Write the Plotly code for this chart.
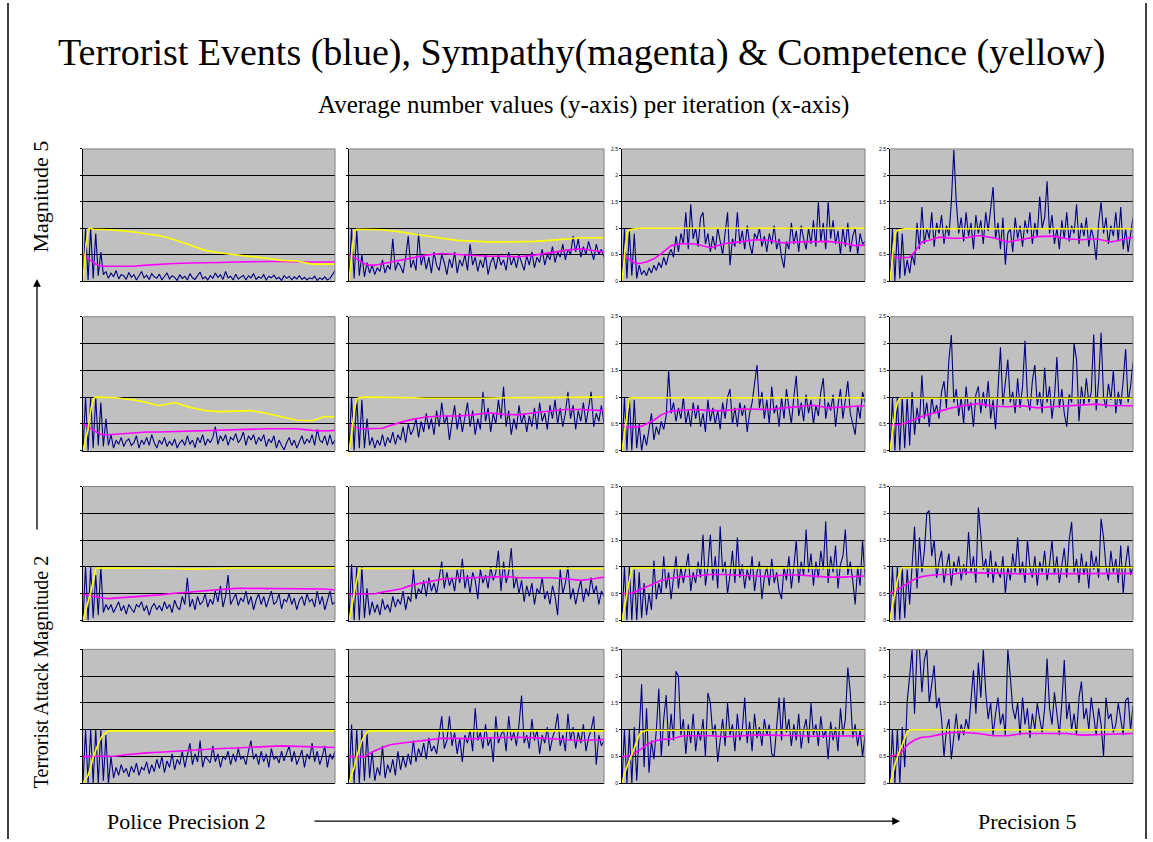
import plotly.graph_objects as go

# ---------------- data ----------------
# smooth series (Sympathy = magenta, Competence = yellow) sampled at these iterations
X_SMOOTH = [0, 1, 2, 3, 4, 5, 6, 7, 8, 10, 13, 16, 20, 25, 30, 36, 42, 48, 54, 60, 66, 72, 78, 84, 90, 95, 99]

# Row 1 (Magnitude 5)
BLUE_R1C1 = [0.0, 1.0, 0.02, 1.0, 0.05, 0.9, 0.1, 0.55, 0.12, 0.18,
             0.05, 0.15, 0.08, 0.2, 0.04, 0.12, 0.1, 0.03, 0.16, 0.07,
             0.12, 0.02, 0.1, 0.18, 0.06, 0.11, 0.03, 0.14, 0.08, 0.05,
             0.13, 0.02, 0.09, 0.15, 0.04, 0.1, 0.07, 0.01, 0.12, 0.05,
             0.09, 0.02, 0.14, 0.06, 0.03, 0.11, 0.17, 0.04, 0.08, 0.02,
             0.1, 0.05, 0.15, 0.07, 0.12, 0.03, 0.18, 0.06, 0.09, 0.02,
             0.13, 0.04, 0.08, 0.11, 0.02, 0.1, 0.06, 0.14, 0.03, 0.08,
             0.05, 0.12, 0.02, 0.09, 0.06, 0.11, 0.04, 0.07, 0.01, 0.1,
             0.05, 0.09, 0.02, 0.08, 0.04, 0.1, 0.03, 0.07, 0.02, 0.06,
             0.04, 0.09, 0.01, 0.06, 0.03, 0.08, 0.02, 0.05, 0.12, 0.2]
MAG_R1C1 = [0.5, 0.47, 0.43, 0.39, 0.35, 0.32, 0.3, 0.29, 0.28, 0.28, 0.28, 0.28, 0.28, 0.3,
            0.32, 0.33, 0.34, 0.34, 0.35, 0.36, 0.37, 0.37, 0.37, 0.36, 0.36, 0.36, 0.36]
YEL_R1C1 = [0.0, 0.6, 0.98, 1.0, 0.98, 0.98, 0.98, 0.98, 0.97, 0.97, 0.96, 0.95, 0.93, 0.89,
            0.86, 0.78, 0.68, 0.58, 0.53, 0.5, 0.46, 0.43, 0.39, 0.38, 0.32, 0.32, 0.32]

BLUE_R1C2 = [0.0, 1.0, 0.05, 0.95, 0.1, 0.5, 0.08, 0.35, 0.15, 0.3,
             0.12, 0.25, 0.18, 0.4, 0.15, 0.3, 0.22, 0.8, 0.2, 0.35,
             0.28, 0.15, 0.45, 0.85, 0.25, 0.4, 0.2, 0.9, 0.3, 0.5,
             0.22, 0.45, 0.15, 0.55, 0.3, 0.2, 0.5, 0.35, 0.12, 0.42,
             0.25, 0.55, 0.15, 0.4, 0.28, 0.5, 0.2, 0.7, 0.3, 0.45,
             0.18, 0.4, 0.25, 0.5, 0.12, 0.35, 0.45, 0.22, 0.5, 0.3,
             0.4, 0.2, 0.55, 0.3, 0.45, 0.25, 0.5, 0.35, 0.2, 0.48,
             0.3, 0.55, 0.25, 0.45, 0.35, 0.6, 0.3, 0.5, 0.4, 0.65,
             0.35, 0.55, 0.45, 0.7, 0.4, 0.6, 0.5, 0.85, 0.55, 0.8,
             0.45, 0.65, 0.5, 0.75, 0.55, 0.4, 0.7, 0.5, 0.6, 0.45]
MAG_R1C2 = [0.5, 0.47, 0.44, 0.41, 0.38, 0.35, 0.33, 0.31, 0.3, 0.3, 0.33, 0.36, 0.39, 0.44,
            0.49, 0.52, 0.5, 0.49, 0.47, 0.47, 0.46, 0.49, 0.54, 0.58, 0.61, 0.58, 0.55]
YEL_R1C2 = [0.0, 0.5, 0.95, 0.98, 0.98, 0.98, 0.98, 0.98, 0.98, 0.98, 0.97, 0.95, 0.93, 0.89,
            0.85, 0.81, 0.77, 0.75, 0.74, 0.74, 0.74, 0.75, 0.77, 0.79, 0.82, 0.82, 0.82]

BLUE_R1C3 = [0.0, 1.0, 0.05, 0.95, 0.1, 0.9, 0.05, 0.3, 0.12, 0.2,
             0.1, 0.25, 0.15, 0.3, 0.2, 0.35, 0.25, 0.45, 0.3, 0.5,
             0.6, 0.45, 0.85, 0.55, 0.9, 0.7, 1.3, 0.6, 1.45, 0.8,
             1.0, 0.65, 1.2, 1.3, 0.7, 0.9, 0.55, 0.85, 0.6, 1.0,
             0.75, 0.5, 0.9, 1.3, 0.3, 0.8, 0.65, 1.3, 0.7, 0.95,
             0.6, 1.05, 0.7, 0.5, 0.9, 0.8, 1.0, 0.65, 0.85, 0.55,
             0.9, 0.7, 1.05, 0.6, 0.8, 0.45, 0.25, 0.75, 0.6, 1.1,
             0.7, 0.95, 0.55, 1.05, 0.8, 0.6, 1.0, 0.7, 1.15, 0.65,
             1.5, 0.75, 1.1, 0.6, 1.5, 0.8, 1.15, 0.7, 0.95, 0.5,
             1.0, 0.65, 1.1, 0.55, 0.85, 1.0, 0.5, 0.9, 0.7, 0.75]
MAG_R1C3 = [0.5, 0.47, 0.44, 0.4, 0.37, 0.35, 0.33, 0.33, 0.34, 0.36, 0.42, 0.52, 0.67, 0.71,
            0.7, 0.63, 0.71, 0.74, 0.78, 0.77, 0.72, 0.74, 0.75, 0.75, 0.72, 0.67, 0.68]
YEL_R1C3 = [0.0, 0.5, 0.9, 0.97, 0.98, 0.99, 1.0, 1.0, 1.0, 1.0, 1.0, 1.0, 1.0, 1.0,
            1.0, 1.0, 1.0, 1.0, 1.0, 1.0, 1.0, 1.0, 1.0, 1.0, 1.0, 1.0, 1.0]

BLUE_R1C4 = [0.0, 1.0, 0.0, 1.0, 0.05, 0.9, 0.1, 0.4, 0.15, 0.5,
             0.3, 1.1, 0.6, 1.4, 0.7, 1.0, 0.8, 1.3, 0.65, 1.1,
             0.9, 1.25, 0.7, 1.05, 0.85, 1.5, 2.48, 1.5, 0.9, 1.2,
             0.75, 1.3, 0.85, 1.1, 0.6, 1.25, 0.9, 1.15, 0.7, 1.3,
             0.95, 1.4, 1.78, 0.8, 1.1, 0.6, 1.2, 0.31, 0.9, 1.0,
             0.55, 1.2, 0.8, 1.05, 0.65, 1.15, 0.9, 1.3, 0.7, 1.1,
             0.85, 1.6, 1.0, 1.2, 1.89, 0.9, 1.25, 0.7, 1.0, 0.6,
             1.15, 0.8, 1.3, 0.75, 1.05, 0.9, 1.45, 0.7, 1.1, 0.85,
             1.2, 0.65, 1.0, 0.8, 0.4, 1.1, 1.5, 0.9, 1.2, 0.7,
             1.05, 0.85, 1.3, 0.75, 1.4, 0.6, 1.0, 0.55, 0.9, 1.2]
MAG_R1C4 = [0.5, 0.47, 0.45, 0.44, 0.44, 0.44, 0.44, 0.45, 0.45, 0.55, 0.74, 0.77, 0.83, 0.81,
            0.81, 0.86, 0.82, 0.74, 0.79, 0.84, 0.85, 0.8, 0.78, 0.8, 0.74, 0.79, 0.83]
YEL_R1C4 = [0.0, 0.4, 0.9, 0.96, 0.97, 0.99, 0.99, 0.99, 0.99, 0.99, 0.99, 0.99, 0.99, 0.99,
            0.99, 0.99, 0.99, 0.99, 0.99, 0.99, 0.99, 0.99, 0.99, 0.99, 0.99, 0.99, 0.99]

# Row 2
BLUE_R2C1 = [0.0, 1.0, 0.0, 1.0, 0.05, 1.0, 0.1, 0.9, 0.08, 0.6,
             0.1, 0.3, 0.05, 0.2, 0.12, 0.25, 0.08, 0.18, 0.22, 0.1,
             0.15, 0.28, 0.05, 0.2, 0.12, 0.25, 0.1, 0.3, 0.15, 0.05,
             0.2, 0.12, 0.25, 0.08, 0.18, 0.1, 0.22, 0.05, 0.15, 0.2,
             0.1, 0.28, 0.12, 0.2, 0.06, 0.25, 0.15, 0.3, 0.1, 0.22,
             0.15, 0.25, 0.45, 0.12, 0.28, 0.18, 0.3, 0.1, 0.25, 0.2,
             0.32, 0.15, 0.22, 0.35, 0.1, 0.28, 0.2, 0.3, 0.12, 0.25,
             0.18, 0.3, 0.08, 0.22, 0.15, 0.28, 0.05, 0.2, 0.1, 0.02,
             0.15, 0.25, 0.1, 0.2, 0.05, 0.18, 0.28, 0.12, 0.22, 0.15,
             0.3, 0.1, 0.4, 0.2, 0.15, 0.28, 0.1, 0.3, 0.12, 0.2]
MAG_R2C1 = [0.5, 0.47, 0.44, 0.41, 0.38, 0.35, 0.33, 0.31, 0.3, 0.3, 0.31, 0.32, 0.33, 0.35,
            0.35, 0.36, 0.37, 0.38, 0.39, 0.4, 0.41, 0.41, 0.41, 0.41, 0.38, 0.37, 0.38]
YEL_R2C1 = [0.0, 0.2, 0.4, 0.75, 0.97, 1.0, 1.0, 1.0, 1.0, 1.0, 0.99, 0.97, 0.95, 0.9,
            0.84, 0.9, 0.81, 0.75, 0.73, 0.74, 0.75, 0.7, 0.63, 0.57, 0.56, 0.64, 0.63]

BLUE_R2C2 = [0.0, 1.0, 0.0, 1.0, 0.05, 0.95, 0.05, 0.6, 0.1, 0.25,
             0.05, 0.2, 0.1, 0.3, 0.08, 0.25, 0.15, 0.35, 0.12, 0.3,
             0.2, 0.45, 0.15, 0.5, 0.3, 0.4, 0.6, 0.25, 0.55, 0.35,
             0.7, 0.4, 0.6, 0.3, 0.75, 0.45, 0.9, 0.5, 0.65, 0.2,
             0.55, 0.85, 0.4, 0.7, 0.35, 0.6, 0.9, 0.45, 0.75, 0.3,
             0.6, 0.4, 1.1, 0.55, 0.8, 0.35, 0.7, 0.5, 0.95, 0.6,
             1.2, 0.45, 0.75, 0.3, 0.6, 0.4, 0.85, 0.5, 0.7, 0.35,
             0.65, 0.45, 0.8, 0.4, 0.9, 0.55, 0.7, 0.4, 0.85, 0.6,
             0.95, 0.5, 0.8, 0.45, 0.7, 1.1, 0.6, 0.85, 0.4, 0.75,
             0.55, 0.9, 0.5, 0.8, 1.1, 0.45, 0.7, 0.55, 0.85, 0.5]
MAG_R2C2 = [0.48, 0.46, 0.44, 0.43, 0.42, 0.41, 0.41, 0.41, 0.41, 0.41, 0.42, 0.47, 0.53, 0.59,
            0.63, 0.65, 0.65, 0.67, 0.71, 0.68, 0.67, 0.71, 0.74, 0.77, 0.77, 0.76, 0.75]
YEL_R2C2 = [0.0, 0.3, 0.75, 0.97, 0.99, 1.0, 1.0, 1.0, 1.0, 1.0, 1.0, 1.0, 0.99, 0.99,
            0.98, 0.98, 0.98, 0.97, 0.98, 0.99, 0.99, 0.99, 1.0, 1.0, 1.0, 1.0, 1.0]

BLUE_R2C3 = [0.0, 1.0, 0.0, 1.0, 0.0, 0.95, 0.05, 0.5, 0.0, 0.3,
             0.1, 0.4, 0.7, 0.2, 0.45, 0.3, 0.55, 0.4, 0.65, 1.49,
             0.7, 0.9, 0.55, 0.8, 0.6, 1.0, 0.5, 0.75, 0.45, 0.9,
             0.6, 0.85, 0.45, 0.7, 0.35, 0.95, 0.55, 0.8, 0.5, 0.75,
             0.4, 0.9, 0.6, 1.0, 1.15, 0.5, 0.8, 0.45, 0.9, 0.65,
             0.85, 0.35, 0.7, 0.9, 1.25, 1.6, 0.8, 1.1, 0.6, 0.95,
             0.5, 1.2, 0.7, 0.85, 0.45, 1.0, 0.6, 1.15, 0.8, 0.5,
             1.0, 1.4, 0.65, 0.9, 0.55, 1.05, 0.7, 0.95, 0.5, 0.85,
             0.65, 1.1, 1.35, 0.6, 0.9, 0.75, 1.05, 0.45, 0.85, 1.15,
             0.6, 0.95, 1.3, 0.7, 0.5, 0.3, 0.85, 0.6, 1.1, 0.9]
MAG_R2C3 = [0.5, 0.45, 0.44, 0.44, 0.44, 0.44, 0.44, 0.45, 0.46, 0.5, 0.57, 0.67, 0.74, 0.76,
            0.77, 0.75, 0.75, 0.78, 0.78, 0.77, 0.8, 0.83, 0.85, 0.8, 0.82, 0.84, 0.84]
YEL_R2C3 = [0.0, 0.35, 0.7, 0.98, 0.99, 0.99, 0.99, 0.99, 0.99, 0.99, 0.99, 0.99, 0.99, 0.99,
            0.99, 0.99, 0.99, 0.99, 0.99, 0.99, 0.99, 0.99, 0.99, 0.99, 0.99, 0.99, 0.99]

BLUE_R2C4 = [0.0, 1.0, 0.0, 1.0, 0.0, 1.0, 0.05, 1.0, 0.1, 1.1,
             0.3, 0.8, 0.5, 1.41, 0.6, 0.9, 0.45, 1.0, 0.7, 0.85,
             0.6, 1.1, 1.3, 0.8, 1.7, 2.16, 0.9, 1.15, 0.65, 1.0,
             0.5, 1.2, 0.75, 0.9, 0.45, 1.05, 1.2, 0.7, 1.1, 0.8,
             1.3, 0.6, 0.95, 0.4, 1.15, 1.93, 0.85, 1.25, 1.7, 0.9,
             1.1, 0.7, 1.35, 0.8, 1.2, 2.05, 1.0, 0.75, 1.3, 1.6,
             0.85, 1.1, 0.7, 1.55, 0.9, 1.2, 0.6, 1.0, 1.75, 0.8,
             1.15, 0.7, 0.45, 1.05, 0.9, 2.0, 1.7, 0.55, 1.2, 0.85,
             1.35, 0.9, 1.1, 2.17, 0.75, 1.3, 2.2, 1.0, 0.8, 1.25,
             0.95, 1.5, 0.7, 1.1, 0.85, 1.3, 1.9, 0.9, 1.2, 1.65]
MAG_R2C4 = [0.48, 0.48, 0.48, 0.48, 0.49, 0.5, 0.52, 0.54, 0.56, 0.59, 0.64, 0.68, 0.73, 0.8,
            0.84, 0.88, 0.83, 0.82, 0.84, 0.8, 0.82, 0.84, 0.86, 0.87, 0.84, 0.84, 0.84]
YEL_R2C4 = [0.0, 0.35, 0.7, 0.9, 0.98, 0.98, 0.98, 0.98, 0.98, 0.98, 0.98, 0.98, 0.98, 0.98,
            0.98, 0.98, 0.98, 0.98, 0.98, 0.98, 0.98, 0.98, 0.98, 0.98, 0.98, 0.98, 0.98]

# Row 3
BLUE_R3C1 = [0.0, 1.0, 0.0, 1.0, 0.05, 0.85, 0.1, 1.0, 0.15, 0.3,
             0.2, 0.3, 0.15, 0.25, 0.35, 0.18, 0.28, 0.12, 0.3, 0.22,
             0.15, 0.3, 0.25, 0.35, 0.18, 0.28, 0.1, 0.25, 0.32, 0.2,
             0.28, 0.18, 0.35, 0.22, 0.3, 0.15, 0.38, 0.25, 0.2, 0.45,
             0.3, 0.8, 0.25, 0.4, 0.2, 0.45, 0.3, 0.35, 0.5, 0.25,
             0.4, 0.3, 0.55, 0.35, 0.65, 0.25, 0.45, 0.85, 0.3, 0.4,
             0.5, 0.28, 0.42, 0.35, 0.55, 0.3, 0.45, 0.2, 0.38, 0.5,
             0.3, 0.45, 0.25, 0.4, 0.55, 0.3, 0.35, 0.5, 0.22, 0.4,
             0.35, 0.5, 0.3, 0.42, 0.2, 0.38, 0.45, 0.28, 0.5, 0.35,
             0.4, 0.25, 0.55, 0.3, 0.45, 0.2, 0.38, 0.55, 0.3, 0.35]
MAG_R3C1 = [0.49, 0.48, 0.47, 0.46, 0.45, 0.44, 0.43, 0.42, 0.42, 0.41, 0.42, 0.43, 0.44, 0.46,
            0.48, 0.51, 0.53, 0.56, 0.58, 0.6, 0.6, 0.6, 0.6, 0.6, 0.6, 0.59, 0.57]
YEL_R3C1 = [0.0, 0.2, 0.35, 0.52, 0.77, 0.97, 0.98, 0.98, 0.98, 0.98, 0.98, 0.98, 0.98, 0.98,
            0.98, 0.97, 0.96, 0.96, 0.97, 0.98, 0.98, 0.98, 0.98, 0.98, 0.98, 0.98, 0.98]

BLUE_R3C2 = [0.0, 1.05, 0.0, 1.0, 0.0, 1.0, 0.05, 0.6, 0.1, 0.35,
             0.15, 0.3, 0.1, 0.4, 0.2, 0.3, 0.15, 0.45, 0.25, 0.4,
             0.3, 0.55, 0.2, 0.45, 0.35, 0.95, 0.4, 0.6, 0.5, 0.75,
             0.45, 0.8, 0.55, 0.7, 0.5, 0.85, 1.1, 0.6, 0.9, 0.65,
             0.8, 0.55, 0.95, 0.7, 1.15, 0.6, 0.85, 0.5, 0.9, 0.75,
             0.4, 0.95, 0.7, 0.85, 0.6, 1.0, 0.75, 0.9, 1.3, 0.55,
             1.1, 0.7, 0.9, 1.35, 0.6, 0.8, 0.5, 0.75, 0.35, 0.65,
             0.45, 0.7, 0.3, 0.6, 0.5, 0.8, 0.4, 0.55, 0.3, 0.65,
             0.45, 0.1, 0.95, 0.5, 0.7, 1.0, 0.4, 0.6, 0.3, 0.55,
             0.75, 0.35, 0.6, 0.45, 0.8, 0.5, 0.65, 0.3, 0.55, 0.45]
MAG_R3C2 = [0.49, 0.49, 0.49, 0.49, 0.49, 0.49, 0.49, 0.49, 0.49, 0.5, 0.53, 0.56, 0.59, 0.67,
            0.72, 0.77, 0.79, 0.8, 0.82, 0.82, 0.8, 0.8, 0.8, 0.78, 0.75, 0.78, 0.81]
YEL_R3C2 = [0.0, 0.27, 0.52, 0.75, 0.97, 0.97, 0.97, 0.97, 0.97, 0.97, 0.97, 0.97, 0.97, 0.97,
            0.97, 0.97, 0.97, 0.97, 0.97, 0.97, 0.97, 0.97, 0.97, 0.97, 0.97, 0.97, 0.97]

BLUE_R3C3 = [0.0, 1.0, 0.0, 1.0, 0.0, 0.95, 0.0, 0.9, 0.05, 0.7,
             0.1, 0.5, 0.2, 1.12, 0.4, 0.7, 0.5, 1.2, 0.6, 0.9,
             0.4, 0.85, 1.2, 0.6, 1.0, 0.7, 0.95, 1.25, 0.55, 0.9,
             0.7, 1.1, 0.8, 1.6, 0.65, 1.0, 1.6, 0.75, 1.2, 0.6,
             1.76, 0.9, 1.1, 0.5, 0.85, 1.3, 0.7, 1.55, 0.8, 1.05,
             0.6, 0.95, 0.75, 1.2, 0.55, 0.9, 1.1, 0.4, 0.8, 1.0,
             0.65, 1.15, 0.7, 0.9, 0.55, 0.4, 1.0, 0.75, 1.2, 0.6,
             1.0, 1.5, 0.7, 1.1, 0.85, 1.7, 0.9, 1.25, 0.65, 1.1,
             0.8, 1.3, 0.95, 1.85, 0.7, 1.2, 0.9, 1.4, 0.6, 1.05,
             1.2, 1.7, 0.85, 1.1, 0.75, 0.3, 1.0, 0.65, 1.5, 0.8]
MAG_R3C3 = [0.5, 0.5, 0.5, 0.5, 0.51, 0.53, 0.55, 0.57, 0.6, 0.64, 0.7, 0.75, 0.79, 0.82,
            0.83, 0.86, 0.86, 0.84, 0.83, 0.82, 0.85, 0.85, 0.83, 0.81, 0.81, 0.82, 0.83]
YEL_R3C3 = [0.0, 0.28, 0.5, 0.75, 0.98, 0.98, 0.98, 0.98, 0.98, 0.98, 0.98, 0.98, 0.98, 0.98,
            0.98, 0.98, 0.98, 0.98, 0.98, 0.98, 0.98, 0.98, 0.98, 0.98, 0.98, 0.98, 0.98]

BLUE_R3C4 = [0.0, 1.0, 0.0, 1.0, 0.0, 1.0, 0.05, 0.95, 0.3, 1.1,
             1.75, 0.6, 1.55, 0.9, 1.3, 2.0, 2.05, 1.2, 1.5, 0.8,
             1.1, 1.3, 0.7, 1.0, 1.25, 0.65, 1.1, 0.9, 1.2, 0.75,
             1.05, 0.85, 1.65, 0.9, 1.2, 0.7, 2.11, 1.6, 0.95, 1.15,
             0.8, 1.3, 0.7, 1.1, 0.9, 0.8, 1.2, 0.5, 1.0, 0.75,
             1.25, 0.9, 1.55, 0.85, 1.1, 0.7, 1.5, 1.0, 0.8, 1.2,
             0.65, 1.1, 0.9, 1.3, 0.75, 1.05, 1.5, 0.85, 1.2, 0.7,
             1.0, 1.35, 0.8, 1.5, 1.84, 0.9, 1.15, 0.7, 1.25, 0.85,
             1.1, 0.6, 1.3, 0.95, 1.2, 0.8, 1.9, 1.55, 1.0, 0.75,
             1.3, 0.9, 1.15, 0.7, 1.4, 0.5, 1.05, 1.4, 0.85, 1.0]
MAG_R3C4 = [0.5, 0.52, 0.55, 0.58, 0.61, 0.64, 0.67, 0.7, 0.72, 0.77, 0.82, 0.84, 0.86, 0.86,
            0.9, 0.89, 0.89, 0.88, 0.87, 0.87, 0.87, 0.87, 0.87, 0.87, 0.87, 0.88, 0.88]
YEL_R3C4 = [0.0, 0.3, 0.5, 0.75, 0.9, 0.99, 0.99, 0.99, 0.99, 0.99, 0.99, 0.99, 0.99, 0.99,
            0.99, 0.99, 0.99, 0.99, 0.99, 0.99, 0.99, 0.99, 0.99, 0.99, 0.99, 0.99, 0.99]

# Row 4 (Magnitude 2)
BLUE_R4C1 = [0.0, 1.0, 0.0, 1.0, 0.0, 1.0, 0.0, 1.0, 0.05, 0.9,
             0.0, 0.5, 0.1, 0.3, 0.15, 0.35, 0.2, 0.28, 0.12, 0.32,
             0.2, 0.38, 0.15, 0.3, 0.25, 0.4, 0.18, 0.35, 0.22, 0.45,
             0.28, 0.5, 0.2, 0.42, 0.3, 0.55, 0.25, 0.45, 0.35, 0.6,
             0.3, 0.5, 0.75, 0.35, 0.55, 0.4, 0.8, 0.3, 0.5, 0.45,
             0.38, 0.7, 0.4, 0.55, 0.3, 0.5, 0.45, 0.6, 0.35, 0.55,
             0.4, 0.65, 0.45, 0.5, 0.35, 0.6, 0.8, 0.45, 0.55, 0.35,
             0.6, 0.4, 0.55, 0.3, 0.65, 0.45, 0.5, 0.38, 0.6, 0.42,
             0.55, 0.7, 0.4, 0.6, 0.35, 0.5, 0.62, 0.3, 0.55, 0.45,
             0.75, 0.4, 0.6, 0.35, 0.5, 0.7, 0.3, 0.55, 0.45, 0.6]
MAG_R4C1 = [0.5, 0.5, 0.5, 0.5, 0.5, 0.5, 0.5, 0.5, 0.5, 0.5, 0.51, 0.53, 0.55, 0.57,
            0.58, 0.6, 0.62, 0.64, 0.65, 0.66, 0.67, 0.69, 0.7, 0.69, 0.68, 0.67, 0.67]
YEL_R4C1 = [0.0, 0.08, 0.15, 0.3, 0.49, 0.62, 0.75, 0.85, 0.91, 0.98, 0.98, 0.98, 0.98, 0.98,
            0.98, 0.98, 0.98, 0.98, 0.98, 0.98, 0.98, 0.98, 0.98, 0.98, 0.98, 0.98, 0.98]

BLUE_R4C2 = [0.0, 1.1, 0.0, 1.0, 0.0, 1.0, 0.05, 0.95, 0.1, 0.6,
             0.05, 0.3, 0.15, 0.7, 0.1, 0.35, 0.2, 0.45, 0.15, 0.6,
             0.25, 0.5, 0.3, 0.55, 0.35, 0.8, 0.4, 0.65, 0.5, 0.75,
             0.45, 0.85, 0.6, 0.7, 0.55, 0.9, 1.25, 0.65, 0.8, 1.25,
             0.7, 0.95, 0.55, 0.85, 0.4, 0.9, 0.75, 1.0, 0.6, 1.4,
             0.8, 0.95, 0.65, 1.1, 0.7, 0.85, 0.4, 1.25, 0.75, 0.9,
             1.0, 0.6, 1.25, 0.8, 0.95, 0.7, 1.1, 1.64, 0.75, 0.9,
             0.65, 1.2, 0.8, 1.0, 0.55, 0.9, 0.75, 1.05, 0.6, 0.85,
             1.0, 1.3, 0.7, 0.9, 0.6, 1.3, 0.8, 1.05, 0.65, 0.95,
             0.75, 1.1, 0.6, 0.85, 1.0, 1.25, 0.35, 0.9, 0.7, 0.8]
MAG_R4C2 = [0.5, 0.5, 0.5, 0.5, 0.5, 0.5, 0.5, 0.53, 0.56, 0.61, 0.67, 0.72, 0.75, 0.78,
            0.81, 0.84, 0.84, 0.83, 0.85, 0.86, 0.86, 0.85, 0.84, 0.82, 0.8, 0.81, 0.82]
YEL_R4C2 = [0.0, 0.15, 0.3, 0.5, 0.65, 0.8, 0.88, 0.95, 0.98, 0.98, 0.98, 0.98, 0.98, 0.98,
            0.98, 0.98, 0.98, 0.98, 0.98, 0.98, 0.98, 0.98, 0.98, 0.98, 0.98, 0.98, 0.98]

BLUE_R4C3 = [0.0, 1.0, 0.0, 1.0, 0.0, 1.05, 0.05, 1.1, 1.85, 0.3,
             1.4, 0.2, 0.8, 0.45, 1.0, 1.77, 0.5, 1.2, 1.65, 0.7,
             1.3, 0.8, 2.09, 2.0, 0.9, 1.2, 0.55, 1.1, 0.75, 1.3,
             0.6, 1.0, 0.8, 1.2, 0.5, 1.69, 1.5, 0.9, 1.1, 0.4,
             0.85, 1.2, 0.7, 1.5, 0.9, 1.1, 0.6, 1.3, 0.8, 1.0,
             1.6, 0.75, 1.15, 0.6, 1.3, 0.85, 1.05, 0.7, 1.2, 0.9,
             1.1, 0.55, 0.5, 1.0, 1.6, 0.8, 1.6, 0.95, 1.2, 0.7,
             1.1, 0.8, 1.3, 0.65, 1.0, 1.2, 0.75, 1.5, 0.9, 1.1,
             0.7, 1.25, 0.85, 1.0, 0.45, 1.15, 0.8, 1.05, 0.6, 1.4,
             0.9, 1.2, 2.16, 1.7, 0.85, 1.1, 0.7, 1.0, 0.5, 0.9]
MAG_R4C3 = [0.5, 0.5, 0.5, 0.51, 0.53, 0.56, 0.59, 0.61, 0.65, 0.72, 0.79, 0.82, 0.83, 0.89,
            0.89, 0.89, 0.87, 0.89, 0.9, 0.9, 0.9, 0.89, 0.88, 0.88, 0.89, 0.89, 0.89]
YEL_R4C3 = [0.0, 0.18, 0.3, 0.42, 0.55, 0.67, 0.8, 0.9, 0.96, 0.99, 0.99, 0.99, 0.99, 0.99,
            0.99, 0.99, 0.99, 0.99, 0.99, 0.99, 0.99, 0.99, 0.99, 0.99, 0.99, 0.99, 0.99]

BLUE_R4C4 = [0.0, 1.0, 0.0, 1.0, 0.0, 1.05, 0.3, 1.52, 2.0, 2.5,
             1.3, 2.5, 2.5, 1.7, 2.3, 2.5, 1.5, 1.9, 2.2, 1.4,
             1.6, 1.2, 0.5, 1.0, 1.2, 0.45, 0.9, 1.3, 0.8, 1.1,
             0.9, 1.2, 1.0, 1.5, 2.11, 1.3, 2.25, 1.6, 2.5, 1.7,
             1.2, 1.5, 0.9, 1.3, 1.6, 1.1, 1.3, 0.9, 2.5, 2.0,
             1.4, 1.2, 1.5, 0.9, 1.6, 1.1, 1.4, 0.85, 1.3, 1.0,
             1.5, 1.2, 0.95, 1.4, 2.33, 1.4, 1.1, 1.7, 1.3, 0.9,
             1.5, 2.3, 1.2, 1.5, 1.0, 1.3, 0.9, 1.6, 1.9, 1.2,
             1.4, 1.0, 1.6, 1.2, 0.9, 1.4, 1.1, 0.5, 1.6, 1.2,
             1.3, 0.95, 1.1, 1.5, 1.2, 0.9, 1.55, 1.6, 1.0, 1.45]
MAG_R4C4 = [0.5, 0.51, 0.52, 0.53, 0.55, 0.6, 0.66, 0.71, 0.75, 0.81, 0.86, 0.87, 0.91, 0.95,
            0.95, 0.93, 0.89, 0.89, 0.93, 0.93, 0.94, 0.93, 0.9, 0.91, 0.92, 0.93, 0.93]
YEL_R4C4 = [0.0, 0.15, 0.35, 0.5, 0.62, 0.72, 0.85, 0.96, 1.0, 1.0, 1.0, 1.0, 1.0, 1.0,
            1.0, 1.0, 1.0, 1.0, 1.0, 1.0, 1.0, 1.0, 1.0, 1.0, 1.0, 1.0, 1.0]

Y_TICKS = [0, 0.5, 1, 1.5, 2, 2.5]
Y_TICK_TEXT = ["0", "0.5", "1", "1.5", "2", "2.5"]

TITLE = "Terrorist Events (blue), Sympathy(magenta) & Competence (yellow)"
SUBTITLE = "Average number values (y-axis) per iteration (x-axis)"

PANELS = [
    [(BLUE_R1C1, MAG_R1C1, YEL_R1C1), (BLUE_R1C2, MAG_R1C2, YEL_R1C2),
     (BLUE_R1C3, MAG_R1C3, YEL_R1C3), (BLUE_R1C4, MAG_R1C4, YEL_R1C4)],
    [(BLUE_R2C1, MAG_R2C1, YEL_R2C1), (BLUE_R2C2, MAG_R2C2, YEL_R2C2),
     (BLUE_R2C3, MAG_R2C3, YEL_R2C3), (BLUE_R2C4, MAG_R2C4, YEL_R2C4)],
    [(BLUE_R3C1, MAG_R3C1, YEL_R3C1), (BLUE_R3C2, MAG_R3C2, YEL_R3C2),
     (BLUE_R3C3, MAG_R3C3, YEL_R3C3), (BLUE_R3C4, MAG_R3C4, YEL_R3C4)],
    [(BLUE_R4C1, MAG_R4C1, YEL_R4C1), (BLUE_R4C2, MAG_R4C2, YEL_R4C2),
     (BLUE_R4C3, MAG_R4C3, YEL_R4C3), (BLUE_R4C4, MAG_R4C4, YEL_R4C4)],
]

# ---------------- layout ----------------
W, H = 1153, 842
COL_PX = [(83, 335), (349, 604), (622, 865), (890, 1133)]
ROW_PX = [(147, 280), (316, 451), (487, 622), (651, 786)]
FONT = "Liberation Serif"

fig = go.Figure()
layout = {}
shapes = []
n = 0
for r in range(4):
    for c in range(4):
        n += 1
        blue, mag, yel = PANELS[r][c]
        xa = "x" if n == 1 else f"x{n}"
        ya = "y" if n == 1 else f"y{n}"
        fig.add_trace(go.Scatter(y=blue, mode="lines", line=dict(color="#000080", width=1.1),
                                 xaxis=xa, yaxis=ya, hoverinfo="skip"))
        fig.add_trace(go.Scatter(x=X_SMOOTH, y=mag, mode="lines", line=dict(color="#FF00FF", width=1.6),
                                 xaxis=xa, yaxis=ya, hoverinfo="skip"))
        fig.add_trace(go.Scatter(x=X_SMOOTH, y=yel, mode="lines", line=dict(color="#FFFF00", width=1.6),
                                 xaxis=xa, yaxis=ya, hoverinfo="skip"))
        x0, x1 = COL_PX[c]
        t, b = ROW_PX[r]
        key = "" if n == 1 else str(n)
        layout[f"xaxis{key}"] = dict(domain=[x0 / W, x1 / W], anchor=ya, range=[0, 99],
                                     showgrid=False, zeroline=False, showticklabels=False,
                                     showline=True, linecolor="black", linewidth=1, ticks="",
                                     fixedrange=True)
        layout[f"yaxis{key}"] = dict(domain=[1 - b / H, 1 - t / H], anchor=xa, range=[0, 2.5],
                                     tickvals=Y_TICKS, ticktext=Y_TICK_TEXT,
                                     showgrid=True, gridcolor="black", gridwidth=1, zeroline=False,
                                     showline=True, linecolor="black", linewidth=1,
                                     ticks="outside", ticklen=2, tickcolor="black",
                                     showticklabels=(c >= 2),
                                     tickfont=dict(size=5, color="black", family="Arial"),
                                     fixedrange=True)
        # grey top and right borders of the plot area
        shapes.append(dict(type="line", xref=f"{xa} domain", yref=f"{ya} domain",
                           x0=0, x1=1, y0=1, y1=1, line=dict(color="#808080", width=1), layer="above"))
        shapes.append(dict(type="line", xref=f"{xa} domain", yref=f"{ya} domain",
                           x0=1, x1=1, y0=0, y1=1, line=dict(color="#808080", width=1), layer="above"))

# frame lines
shapes.append(dict(type="line", xref="paper", yref="paper", x0=8 / W, x1=8 / W, y0=0, y1=1,
                   line=dict(color="black", width=1.5)))
shapes.append(dict(type="line", xref="paper", yref="paper", x0=1146 / W, x1=1146 / W, y0=0, y1=1,
                   line=dict(color="black", width=1.5)))

annotations = [
    dict(text=TITLE, x=581 / W, y=1 - 50 / H, xref="paper", yref="paper", showarrow=False,
         xanchor="center", yanchor="middle", font=dict(family=FONT, size=38, color="black")),
    dict(text=SUBTITLE, x=583 / W, y=1 - 103 / H, xref="paper", yref="paper", showarrow=False,
         xanchor="center", yanchor="middle", font=dict(family=FONT, size=25, color="black")),
    dict(text="Magnitude 5", x=41 / W, y=1 - 195 / H, xref="paper", yref="paper", showarrow=False,
         textangle=-90, xanchor="center", yanchor="middle", font=dict(family=FONT, size=22, color="black")),
    dict(text="Terrorist Attack Magnitude 2", x=41 / W, y=1 - 674 / H, xref="paper", yref="paper",
         showarrow=False, textangle=-90, xanchor="center", yanchor="middle",
         font=dict(family=FONT, size=20, color="black")),
    dict(text="Police Precision 2", x=186 / W, y=1 - 824 / H, xref="paper", yref="paper", showarrow=False,
         xanchor="center", yanchor="middle", font=dict(family=FONT, size=22, color="black")),
    dict(text="Precision 5", x=1027 / W, y=1 - 824 / H, xref="paper", yref="paper", showarrow=False,
         xanchor="center", yanchor="middle", font=dict(family=FONT, size=22, color="black")),
    # arrows
    dict(text="", x=900 / W, y=1 - 824 / H, xref="paper", yref="paper", showarrow=True,
         ax=313 - 900, ay=0, arrowhead=2, arrowsize=1.2, arrowwidth=1.3, arrowcolor="black"),
    dict(text="", x=37 / W, y=1 - 278 / H, xref="paper", yref="paper", showarrow=True,
         ax=0, ay=530 - 278, arrowhead=2, arrowsize=1.2, arrowwidth=1.3, arrowcolor="black"),
]

fig.update_layout(
    width=W, height=H, autosize=False,
    margin=dict(l=0, r=0, t=0, b=0),
    paper_bgcolor="white", plot_bgcolor="#C0C0C0",
    showlegend=False,
    shapes=shapes, annotations=annotations,
    **layout,
)

fig.write_html("out.html", config={"displayModeBar": False})
